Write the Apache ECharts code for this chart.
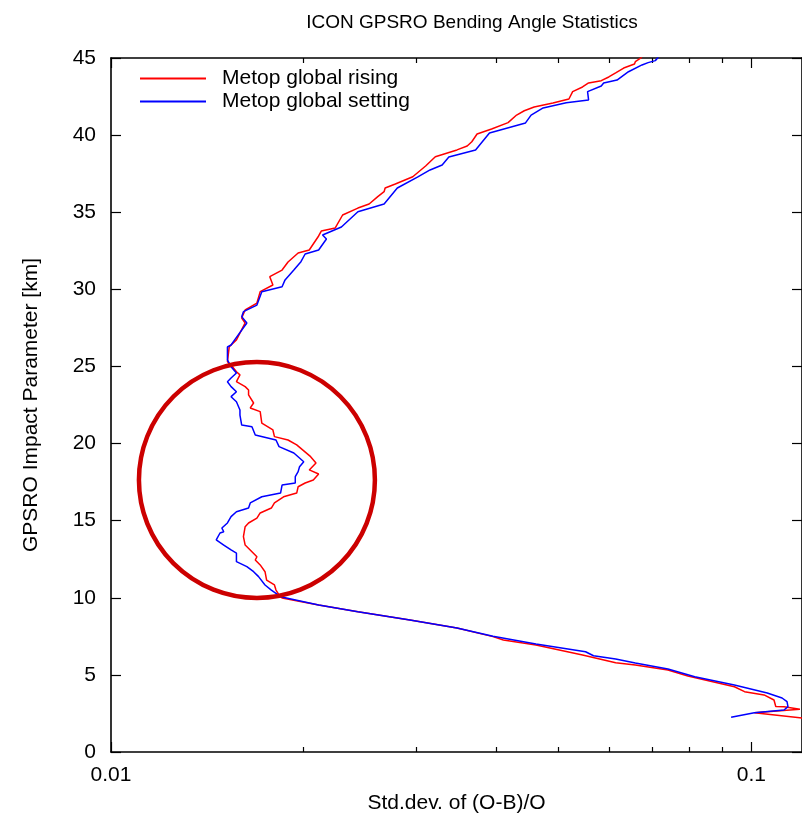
<!DOCTYPE html>
<html><head><meta charset="utf-8">
<script src="https://cdn.jsdelivr.net/npm/echarts@6/dist/echarts.min.js"></script>
<style>html,body{margin:0;padding:0;background:#fff}#c{width:802px;height:823px}</style>
</head><body><div id="c"></div>
<script>
// ---- data ----
const risingKm = [45.05,44.76,44.61,44.35,44.03,43.77,43.53,43.38,43.12,42.82,42.34,42.08,41.82,41.58,41.30,40.81,40.40,40.07,39.57,39.29,39.04,38.60,38.00,37.30,36.83,36.57,36.33,36.01,35.53,35.27,34.82,33.98,33.78,33.46,32.55,32.36,31.77,31.25,30.82,30.28,29.85,29.11,28.66,28.14,27.82,26.72,26.28,25.31,25.09,24.66,24.45,24.01,23.69,23.47,23.15,22.63,22.31,22.07,21.33,20.88,20.45,20.23,19.91,19.15,18.74,18.29,18.03,17.64,17.44,17.20,16.79,16.55,16.15,15.82,15.50,15.17,14.85,14.61,13.96,13.42,12.99,12.66,12.45,12.13,11.69,11.15,10.83,10.50,10.18,9.99,9.53,9.10,8.56,8.04,7.48,7.26,6.94,6.29,5.79,5.64,5.32,4.93,4.23,3.91,3.70,3.37,2.95,2.93,2.77,2.55,2.13];
const risingStd = [0.0675,0.0659,0.0657,0.0632,0.0614,0.0599,0.0583,0.0557,0.0545,0.0526,0.0519,0.0490,0.0458,0.0442,0.0430,0.0417,0.0393,0.0373,0.0366,0.0360,0.0347,0.0321,0.0310,0.0296,0.0278,0.0268,0.0267,0.0261,0.0253,0.0243,0.0230,0.0224,0.0213,0.0211,0.0204,0.0196,0.0189,0.0185,0.0177,0.0179,0.0171,0.0169,0.0162,0.0160,0.0162,0.0157,0.0153,0.0152,0.0154,0.0157,0.0159,0.0157,0.0162,0.0164,0.0164,0.0167,0.0165,0.0171,0.0172,0.0179,0.0180,0.0189,0.0195,0.0205,0.0209,0.0204,0.0211,0.0207,0.0201,0.0196,0.0195,0.0186,0.0180,0.0178,0.0171,0.0169,0.0164,0.0162,0.0161,0.0162,0.0166,0.0169,0.0168,0.0171,0.0174,0.0175,0.0180,0.0181,0.0183,0.0185,0.0211,0.0243,0.0293,0.0347,0.0395,0.0410,0.0461,0.0545,0.0614,0.0659,0.0741,0.0796,0.0941,0.0976,0.1047,0.1085,0.1092,0.1125,0.1191,0.1011,0.1250];

const settingKm = [45.05,44.83,44.70,44.55,44.11,43.57,43.38,43.18,42.82,42.28,42.10,41.76,41.30,40.79,40.14,39.04,38.58,38.06,37.74,37.28,36.57,35.53,35.03,34.04,33.52,33.26,32.55,32.29,31.79,31.58,31.25,30.61,30.17,29.85,28.98,28.55,28.23,27.82,26.72,26.39,26.26,25.42,24.98,24.58,24.25,24.01,23.69,23.36,23.04,22.71,22.18,21.85,21.20,21.09,20.56,20.23,19.80,19.39,18.82,18.50,18.18,17.85,17.44,17.31,16.79,16.55,16.15,15.82,15.58,15.26,14.85,14.52,14.28,14.20,13.75,13.42,13.10,12.90,12.34,12.02,11.69,11.37,10.83,10.50,10.07,9.99,9.53,9.10,8.56,8.04,7.50,7.00,6.50,6.24,6.03,5.77,5.38,4.88,4.34,3.83,3.50,3.26,2.94,2.72,2.55,2.25];
const settingStd = [0.0716,0.0708,0.0690,0.0675,0.0643,0.0617,0.0588,0.0583,0.0555,0.0557,0.0514,0.0473,0.0453,0.0444,0.0390,0.0371,0.0337,0.0329,0.0315,0.0301,0.0280,0.0267,0.0243,0.0229,0.0214,0.0217,0.0211,0.0201,0.0198,0.0196,0.0193,0.0187,0.0185,0.0172,0.0169,0.0161,0.0160,0.0163,0.0156,0.0154,0.0152,0.0152,0.0154,0.0157,0.0154,0.0152,0.0154,0.0157,0.0154,0.0157,0.0159,0.0159,0.0160,0.0166,0.0168,0.0181,0.0183,0.0193,0.0200,0.0197,0.0196,0.0194,0.0194,0.0185,0.0184,0.0172,0.0165,0.0164,0.0157,0.0154,0.0152,0.0149,0.0150,0.0148,0.0146,0.0150,0.0154,0.0157,0.0157,0.0163,0.0167,0.0170,0.0174,0.0178,0.0184,0.0185,0.0211,0.0243,0.0293,0.0347,0.0395,0.0461,0.0551,0.0567,0.0614,0.0659,0.0741,0.0816,0.0941,0.1059,0.1117,0.1137,0.1141,0.1125,0.1011,0.0930];

const seriesNames = ['Metop global rising', 'Metop global setting'];
const xMajorTicks = [0.01, 0.1];
const xMinorTicks = [0.02, 0.03, 0.04, 0.05, 0.06, 0.07, 0.08, 0.09];
const xRange = [0.01, 0.12];
const yRange = [0, 45];
const yStep = 5;
// highlighted region (data coords): centre std, centre km, radius in km
const circleCenter = [0.0169, 17.64];
const circleRadiusKm = 7.65;

// ---- chart ----
const FONT = 'Liberation Sans, Arial, Helvetica, sans-serif';
const chart = echarts.init(document.getElementById('c'), null, {renderer: 'canvas'});
const pairs = (xs, ys) => xs.map((v, i) => [v, ys[i]]);

function xAx(pos, ticks, len, showLine, showLabel) {
  return {
    type: 'log', logBase: 10, position: pos, min: xRange[0], max: xRange[1],
    axisLine: {show: showLine, onZero: false, lineStyle: {color: '#000', width: 1.6}},
    axisTick: {show: true, inside: true, length: len, customValues: ticks, lineStyle: {color: '#000', width: 1.2}},
    axisLabel: {show: showLabel, customValues: ticks, margin: 13, color: '#000', fontSize: 21, fontFamily: FONT,
      formatter: v => String(v)},
    splitLine: {show: false}, minorTick: {show: false}, minorSplitLine: {show: false}
  };
}

const option = {
  animation: false,
  backgroundColor: '#fff',
  title: {
    text: 'ICON GPSRO Bending Angle Statistics',
    left: 467, top: 8, textAlign: 'center',
    textStyle: {fontFamily: FONT, fontSize: 19, fontWeight: 'normal', color: '#000'}
  },
  grid: {left: 111, top: 58, bottom: 71, right: -6, containLabel: false},
  legend: {
    orient: 'vertical', left: 140, top: 67, itemGap: 0, padding: 0,
    itemWidth: 66, itemHeight: 2, icon: 'rect',
    textStyle: {fontFamily: FONT, fontSize: 21, color: '#000', lineHeight: 23, padding: [0, 0, 0, 11]},
    data: seriesNames
  },
  xAxis: [
    Object.assign(xAx('bottom', xMajorTicks, 10, true, true), {
      name: 'Std.dev. of (O-B)/O', nameLocation: 'middle', nameGap: 41,
      nameTextStyle: {fontFamily: FONT, fontSize: 21, color: '#000'}
    }),
    xAx('bottom', xMinorTicks, 5, false, false),
    xAx('top', xMajorTicks, 10, true, false),
    xAx('top', xMinorTicks, 5, false, false)
  ],
  yAxis: [
    {
      type: 'value', position: 'left', min: yRange[0], max: yRange[1], interval: yStep,
      name: 'GPSRO Impact Parameter [km]', nameLocation: 'middle', nameGap: 69,
      nameTextStyle: {fontFamily: FONT, fontSize: 21, color: '#000'},
      axisLine: {show: true, onZero: false, lineStyle: {color: '#000', width: 1.6}},
      axisTick: {inside: true, length: 10, lineStyle: {color: '#000', width: 1.2}},
      axisLabel: {margin: 15, color: '#000', fontSize: 21, fontFamily: FONT},
      splitLine: {show: false}
    },
    {
      type: 'value', position: 'right', min: yRange[0], max: yRange[1], interval: yStep,
      axisLine: {show: true, onZero: false, lineStyle: {color: '#000', width: 1.6}},
      axisTick: {inside: true, length: 10, lineStyle: {color: '#000', width: 1.2}},
      axisLabel: {show: false}, splitLine: {show: false}
    }
  ],
  series: [
    {name: seriesNames[0], type: 'line', xAxisIndex: 0, yAxisIndex: 0, data: pairs(risingStd, risingKm),
      showSymbol: false, symbol: 'none', clip: true, color: '#ff0000', lineStyle: {color: '#ff0000', width: 1.5}},
    {name: seriesNames[1], type: 'line', xAxisIndex: 0, yAxisIndex: 0, data: pairs(settingStd, settingKm),
      showSymbol: false, symbol: 'none', clip: true, color: '#0000ff', lineStyle: {color: '#0000ff', width: 1.5}}
  ]
};
chart.setOption(option);

// annotation circle placed through the axes
const cPix = chart.convertToPixel({xAxisIndex: 0, yAxisIndex: 0}, circleCenter);
const edgePix = chart.convertToPixel({xAxisIndex: 0, yAxisIndex: 0}, [circleCenter[0], circleCenter[1] + circleRadiusKm]);
const rPix = Math.abs(cPix[1] - edgePix[1]);
chart.setOption({graphic: [{type: 'circle', shape: {cx: cPix[0], cy: cPix[1], r: rPix}, z: 100,
  style: {fill: 'none', stroke: '#cc0000', lineWidth: 4.5}}]});
</script></body></html>
